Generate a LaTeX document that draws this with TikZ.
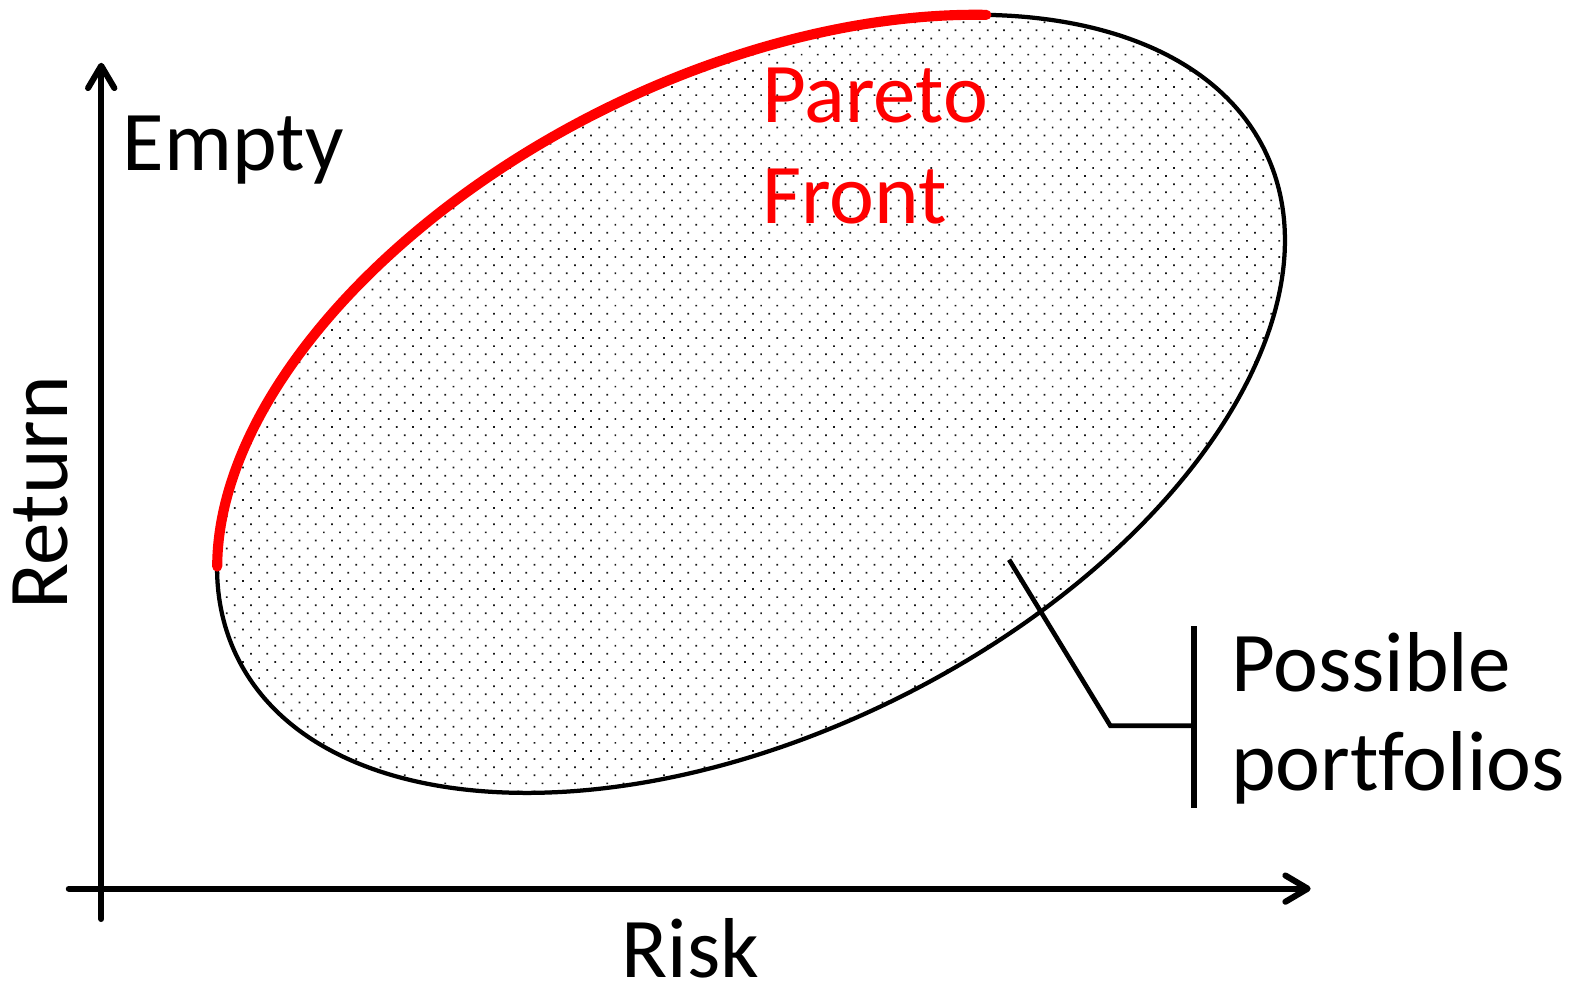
\documentclass[tikz,border=0pt]{standalone}
\usepackage{fontspec}
\setmainfont[Ligatures={NoCommon,NoContextual}]{Carlito}
\usetikzlibrary{arrows.meta,patterns.meta}
\definecolor{pfred}{RGB}{255,0,0}
\tikzset{
  axisline/.style={line width=3pt, -{Straight Barb[length=11pt,width=13pt,line cap=round,line join=round]}, line cap=round},
  label/.style={inner sep=0pt, font=\fontsize{42}{50}\selectfont},
  redlabel/.style={label, text=pfred},
  outline/.style={line width=2.1pt, draw=black},
  front/.style={line width=5pt, draw=pfred, line cap=round},
  callout/.style={line width=2.3pt, line join=miter},
  bar/.style={line width=3pt}
}
\begin{document}
\begin{tikzpicture}[x=0.5pt,y=0.5pt]
\useasboundingbox (0,0) rectangle (1568,974);
% axes
\coordinate (yb) at (100,66);
\coordinate (yt) at (100,912);
\coordinate (xl) at (68,96);
\coordinate (xr) at (1295,96);
\draw[axisline] (yb) -- (yt);
\draw[axisline] (xl) -- (xr);
% ellipse
\begin{scope}[shift={(742,575)}, rotate=26.3]
  \fill[pattern={Dots[distance=5.657pt, angle=45, radius=0.6pt]}, pattern color=black!90] (0,0) ellipse [x radius=566, y radius=325];
  \draw[outline] (0,0) ellipse [x radius=566, y radius=325];
  \draw[front] (164:566 and 325) arc[start angle=164, end angle=48, x radius=566, y radius=325];
\end{scope}
% labels
\node[label, anchor=base west] (empty) at (121,806) {Empty};
\node[label, rotate=90] (ret) at (40,487) {Return};
\node[label, anchor=base] (risk) at (682,8) {Risk};
\node[redlabel, anchor=base west] (par1) at (753,853) {Pareto};
\node[redlabel, anchor=base west] (par2) at (753,753) {Front};
\node[label, anchor=base west] (pos1) at (1216,291) {Possible};
\node[label, anchor=base west] (pos2) at (1216,193) {portfolios};
% callout
\coordinate (cs) at (997,421);
\coordinate (cc) at (1097,257);
\coordinate (cm) at (1180,257);
\coordinate (bt) at (1180,355);
\coordinate (bb) at (1180,176);
\draw[callout] (cs) -- (cc) -- (cm);
\draw[bar] (bt) -- (bb);
\end{tikzpicture}
\end{document}
